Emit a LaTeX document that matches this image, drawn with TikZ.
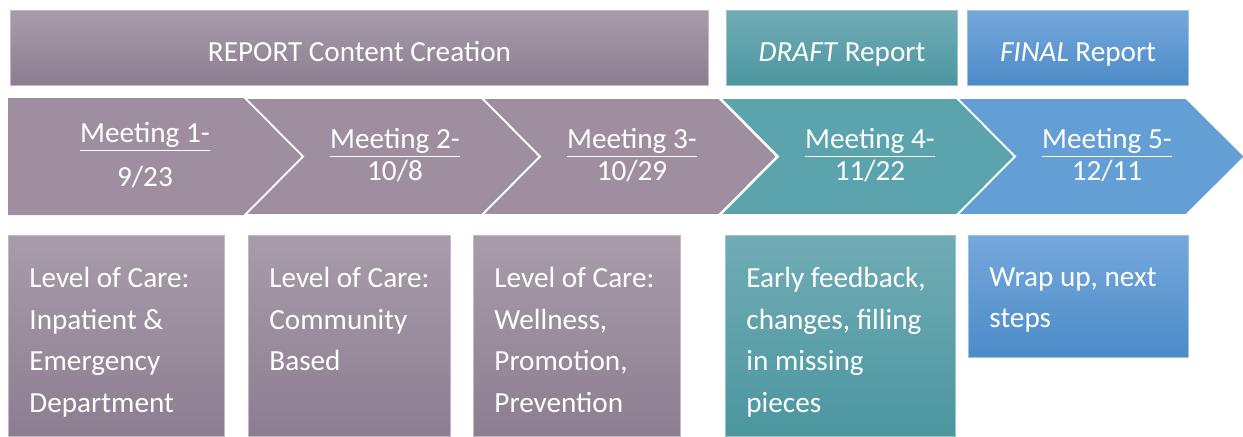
\documentclass[tikz,border=0pt]{standalone}
\usepackage{fontspec}
\setmainfont{Carlito}
\usepackage{xcolor}
\usepackage{tikz}

\definecolor{mauveTop}{RGB}{168,155,170}
\definecolor{mauveBot}{RGB}{140,126,144}
\definecolor{mauveMid}{RGB}{158,142,160}
\definecolor{tealTop}{RGB}{113,172,181}
\definecolor{tealBot}{RGB}{75,150,160}
\definecolor{tealMid}{RGB}{91,163,173}
\definecolor{blueTop}{RGB}{117,168,219}
\definecolor{blueBot}{RGB}{76,139,200}
\definecolor{blueMid}{RGB}{99,158,212}

\begin{document}
\begin{tikzpicture}[x=0.5pt,y=-0.5pt,
      bar_box/.style={
         rectangle,
         anchor=north west,
         draw=white!30!#1Top,
         line width=0.5pt,
         top color=#1Top,
         bottom color=#1Bot,
         text=white,
         minimum height=37.5pt,
         inner sep=0pt,
         text height=13.9pt,
         text depth=0pt,
         font=\fontsize{14.6}{20.5}\selectfont},
      step_box/.style={
         rectangle,
         anchor=north west,
         draw=white!30!#1Top,
         line width=0.5pt,
         top color=#1Top,
         bottom color=#1Bot,
         inner sep=0pt},
      box_text/.style={
         anchor=north west,
         inner sep=0pt,
         align=left,
         text=white,
         font=\fontsize{14.6}{20.8}\selectfont},
      chev_text/.style={
         align=center,
         inner sep=0pt,
         text=white,
         font=\fontsize{14.6}{16}\selectfont},
      chev/.style={
         draw=white,
         line width=0.9pt,
         line join=miter}
]
      \useasboundingbox (0,0) rectangle (1243,436);

      %phases on top
      \node[bar_box=mauve, minimum width=349pt]   (report) at (10,10)  {REPORT Content Creation};
      \node[bar_box=teal,  minimum width=115.5pt] (draft)  at (726,10) {\textit{DRAFT} Report};
      \node[bar_box=blue,  minimum width=110.5pt] (final)  at (967,10) {\textit{FINAL} Report};

      %chevrons
      \fill[mauveMid] (8,98) -- (245,98) -- (303,156.5) -- (245,215) -- (8,215) -- cycle;
      \foreach \s/\c in {245/mauveMid, 482/mauveMid, 720/tealMid}
        \filldraw[chev, fill=\c] (\s,98) -- (\s+237,98) -- (\s+295,156.5) -- (\s+237,215)
          -- (\s,215) -- (\s+58,156.5) -- cycle;
      \filldraw[chev, fill=blueMid] (957,98) -- (1186,98) -- (1245,156.5) -- (1186,215)
          -- (957,215) -- (1015,156.5) -- cycle;

      \foreach \n/\x/\txt in {% name/x/text
        m1/145/{\underline{Meeting 1-}\\[6pt]9/23},
        m2/395/{\underline{Meeting 2-}\\10/8},
        m3/632/{\underline{Meeting 3-}\\10/29},
        m4/870/{\underline{Meeting 4-}\\11/22},
        m5/1107/{\underline{Meeting 5-}\\12/11}}
        \node[chev_text] (\n) at (\x,155) {\txt};

      %boxes below
      \node[step_box=mauve, minimum width=108pt,   minimum height=100.5pt] (b1) at (8,235)   {};
      \node[step_box=mauve, minimum width=101pt,   minimum height=100.5pt] (b2) at (248,235) {};
      \node[step_box=mauve, minimum width=103.5pt, minimum height=100.5pt] (b3) at (473,235) {};
      \node[step_box=teal,  minimum width=115pt,   minimum height=100.5pt] (b4) at (725,235) {};
      \node[step_box=blue,  minimum width=110pt,   minimum height=61pt]    (b5) at (968,235) {};

      \foreach \b/\txt in {% box/text
        b1/{Level of Care:\\Inpatient \&\\Emergency\\Department},
        b2/{Level of Care:\\Community\\Based},
        b3/{Level of Care:\\Wellness,\\Promotion,\\Prevention},
        b4/{Early feedback,\\changes, filling\\in missing\\pieces},
        b5/{Wrap up, next\\steps}}
        \node[box_text] (t\b) at ([xshift=10.5pt,yshift=-16pt]\b.north west) {\txt};

\end{tikzpicture}
\end{document}
